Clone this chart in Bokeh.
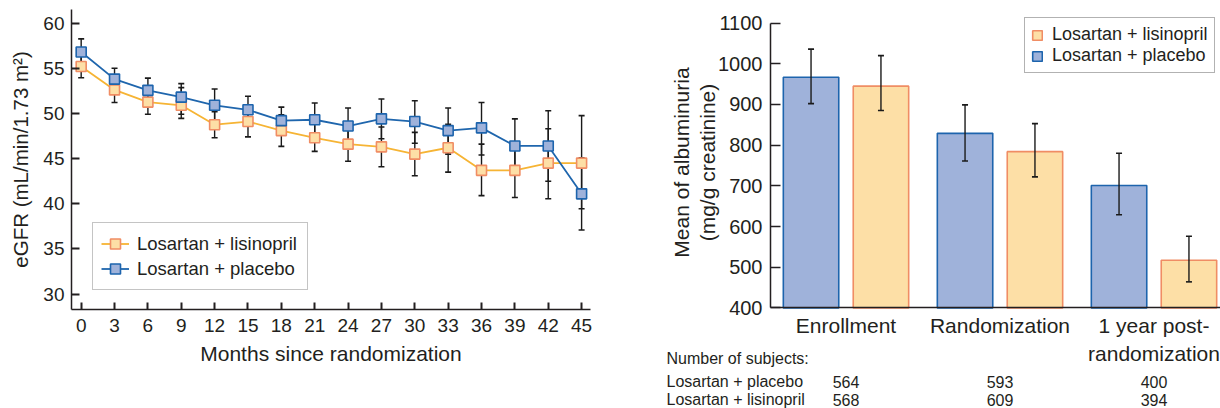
import math
from bokeh.plotting import figure
from bokeh.models import (Range1d, FixedTicker, Whisker, TeeHead, ColumnDataSource,
                          Legend, LegendItem)
from bokeh.core.properties import value
from bokeh.layouts import row
from bokeh.embed import file_html
from bokeh.resources import INLINE

# ---------------- data: eGFR over time ----------------
months = [0, 3, 6, 9, 12, 15, 18, 21, 24, 27, 30, 33, 36, 39, 42, 45]
egfr_lis = [55.2, 52.6, 51.25, 50.9, 48.75, 49.1, 48.1, 47.3, 46.6, 46.3, 45.5, 46.2, 43.7, 43.7, 44.5, 44.5]
egfr_lis_lo = [53.95, 51.2, 49.9, 49.45, 47.3, 47.4, 46.35, 45.8, 44.7, 44.1, 43.1, 43.5, 40.9, 40.7, 40.55, 39.45]
egfr_lis_hi = [56.5, 54.0, 52.6, 52.85, 50.2, 50.8, 49.85, 48.8, 48.5, 48.5, 47.9, 48.8, 46.6, 46.6, 48.3, 49.75]
egfr_pla = [56.8, 53.8, 52.55, 51.8, 50.9, 50.4, 49.2, 49.3, 48.6, 49.4, 49.1, 48.1, 48.4, 46.4, 46.4, 41.1]
egfr_pla_lo = [55.35, 52.6, 51.2, 49.9, 49.2, 48.9, 47.6, 47.45, 46.6, 47.2, 46.7, 45.5, 45.4, 43.4, 42.5, 37.1]
egfr_pla_hi = [58.25, 55.0, 53.9, 53.3, 52.7, 51.9, 50.7, 51.15, 50.6, 51.6, 51.4, 50.6, 51.2, 49.4, 50.3, 45.1]
egfr_yticks = [30, 35, 40, 45, 50, 55, 60]

# ---------------- data: albuminuria ----------------
stages = ["Enrollment", "Randomization", "1 year post-\nrandomization"]
alb_pla = [967, 829, 701]
alb_pla_lo = [902, 761, 629]
alb_pla_hi = [1036, 899, 780]
alb_lis = [945, 784, 517]
alb_lis_lo = [885, 722, 464]
alb_lis_hi = [1020, 853, 576]
n_pla = [564, 593, 400]
n_lis = [568, 609, 394]
alb_yticks = [400, 500, 600, 700, 800, 900, 1000, 1100]
table_rows = ["Number of subjects:", "Losartan + placebo", "Losartan + lisinopril"]

FONT = "Liberation Sans"
TXT = "#231f20"
OR_LINE = "#f6b434"
OR_FILL = "#fddfa6"
OR_EDGE = "#f08d64"
BL_LINE = "#1f66ad"
BL_FILL = "#9fb2da"
BL_EDGE = "#1d64ad"


def style_axis(ax, tick_size, label_size):
    ax.axis_line_color = TXT
    ax.axis_line_width = 1.5
    ax.major_tick_line_color = TXT
    ax.major_tick_line_width = 2
    ax.minor_tick_line_color = None
    ax.major_tick_out = 0
    ax.major_label_text_font = FONT
    ax.major_label_text_font_size = tick_size
    ax.major_label_text_color = TXT
    ax.axis_label_text_font = FONT
    ax.axis_label_text_font_size = label_size
    ax.axis_label_text_font_style = "normal"
    ax.axis_label_text_color = TXT


# ================= left: eGFR =================
p1 = figure(width=620, height=408, output_backend="svg", toolbar_location=None,
            x_range=Range1d(-0.87, 45.8), y_range=Range1d(28.3, 61.5),
            min_border_left=71, min_border_right=30, min_border_top=9, min_border_bottom=99)
p1.outline_line_color = None
p1.grid.visible = False

src_lis = ColumnDataSource(dict(x=months, y=egfr_lis, lo=egfr_lis_lo, hi=egfr_lis_hi))
src_pla = ColumnDataSource(dict(x=months, y=egfr_pla, lo=egfr_pla_lo, hi=egfr_pla_hi))

for src in (src_lis, src_pla):
    w = Whisker(source=src, base="x", upper="hi", lower="lo", dimension="height",
                line_color="#1a1a1a", line_width=1.4, level="underlay",
                upper_head=TeeHead(size=6, line_color="#1a1a1a", line_width=1.6),
                lower_head=TeeHead(size=6, line_color="#1a1a1a", line_width=1.6))
    p1.add_layout(w)

l_lis = p1.line("x", "y", source=src_lis, line_color=OR_LINE, line_width=1.8)
m_lis = p1.scatter("x", "y", source=src_lis, marker="square", size=10,
                   fill_color=OR_FILL, line_color=OR_EDGE, line_width=1.6)
l_pla = p1.line("x", "y", source=src_pla, line_color=BL_LINE, line_width=1.8)
m_pla = p1.scatter("x", "y", source=src_pla, marker="square", size=10,
                   fill_color=BL_FILL, line_color=BL_EDGE, line_width=1.6)

p1.xaxis.ticker = FixedTicker(ticks=months)
p1.yaxis.ticker = FixedTicker(ticks=egfr_yticks)
style_axis(p1.xaxis[0], "19px", "21px")
style_axis(p1.yaxis[0], "19px", "20.5px")
p1.xaxis.major_tick_in = 7
p1.yaxis.major_tick_in = 8
p1.xaxis.major_label_standoff = 9
p1.yaxis.major_label_standoff = 7
p1.xaxis.axis_label = "Months since randomization"
p1.yaxis.axis_label = "eGFR (mL/min/1.73 m²)"
p1.xaxis.axis_label_standoff = 7
p1.yaxis.axis_label_standoff = 8

leg1 = Legend(items=[LegendItem(label="Losartan + lisinopril", renderers=[l_lis, m_lis]),
                     LegendItem(label="Losartan + placebo", renderers=[l_pla, m_pla])],
              location=(21, 19), glyph_width=28, glyph_height=25, label_height=25,
              label_width=162, label_standoff=8, padding=8, spacing=0, margin=0,
              label_text_font=FONT, label_text_font_size="18.5px", label_text_color=TXT,
              border_line_color="#8a8a8a", border_line_width=1.2,
              background_fill_color="white", background_fill_alpha=1)
p1.add_layout(leg1)

# ================= right: albuminuria =================
# The frame fills the whole figure; axes sit at fixed data locations so that the
# subject-count table below the bars can be drawn as ordinary text glyphs.
W2, H2 = 600, 408
X_PX0, X_PPU = 225.5, 154.0            # px of group 0 centre, px per group
Y_TOP_PX, Y_BOT_PX = 22.6, 307.4       # px of 1100 and 400
Y_PPU = (Y_BOT_PX - Y_TOP_PX) / (alb_yticks[-1] - alb_yticks[0])


def fx(px):
    return (px - X_PX0) / X_PPU


def fy(py):
    return alb_yticks[0] + (Y_BOT_PX - py) / Y_PPU


p2 = figure(width=W2, height=H2, output_backend="svg", toolbar_location=None,
            x_range=Range1d(fx(0), fx(W2)), y_range=Range1d(fy(H2), fy(0)),
            min_border=0, min_border_left=0, min_border_right=0,
            min_border_top=0, min_border_bottom=0)
p2.outline_line_color = None
p2.grid.visible = False

# keep each figure's frame where it was set (no cross-figure frame alignment)
for fig in (p1, p2):
    try:
        fig.frame_align = False
    except Exception:
        pass

idx = list(range(len(stages)))
off = 0.227
src_bp = ColumnDataSource(dict(x=[i - off for i in idx], top=alb_pla, lo=alb_pla_lo, hi=alb_pla_hi))
src_bl = ColumnDataSource(dict(x=[i + off for i in idx], top=alb_lis, lo=alb_lis_lo, hi=alb_lis_hi))

b_pla = p2.vbar(x="x", top="top", bottom=alb_yticks[0], width=0.36, source=src_bp,
                fill_color=BL_FILL, line_color=BL_EDGE, line_width=1.6)
b_lis = p2.vbar(x="x", top="top", bottom=alb_yticks[0], width=0.36, source=src_bl,
                fill_color=OR_FILL, line_color=OR_EDGE, line_width=1.6)
for src in (src_bp, src_bl):
    w = Whisker(source=src, base="x", upper="hi", lower="lo", dimension="height",
                line_color="#1a1a1a", line_width=1.4, level="annotation",
                upper_head=TeeHead(size=6, line_color="#1a1a1a", line_width=1.6),
                lower_head=TeeHead(size=6, line_color="#1a1a1a", line_width=1.6))
    p2.add_layout(w)

x_axis_left = fx(150)
p2.xaxis.fixed_location = alb_yticks[0]
p2.xaxis.bounds = (x_axis_left, fx(W2))
p2.xaxis.ticker = FixedTicker(ticks=idx)
p2.xaxis.major_label_overrides = {i: s for i, s in zip(idx, stages)}
p2.yaxis.fixed_location = x_axis_left
p2.yaxis.bounds = (alb_yticks[0], alb_yticks[-1])
p2.yaxis.ticker = FixedTicker(ticks=alb_yticks)
style_axis(p2.xaxis[0], "21px", "21px")
style_axis(p2.yaxis[0], "20px", "21px")
p2.xaxis.major_tick_line_color = None
p2.xaxis.major_tick_in = 0
p2.yaxis.major_tick_in = 10
p2.yaxis.major_tick_line_width = 1.6
p2.xaxis.major_label_standoff = 6
p2.yaxis.major_label_standoff = 8

# y-axis title (two centred lines, rotated)
p2.text(x=[fx(74)], y=[fy(162)], text=["Mean of albuminuria\n(mg/g creatinine)"],
        angle=math.pi / 2, text_align="center", text_baseline="middle",
        text_font=value(FONT), text_font_size=value("21px"), text_color=TXT,
        text_line_height=1.1)

# subject-count table
row_y = [fy(358), fy(381), fy(399)]
p2.text(x=[fx(46)] * 3, y=row_y, text=table_rows, text_align="left", text_baseline="middle",
        text_font=value(FONT), text_font_size=value("16px"), text_color=TXT)
p2.text(x=idx + idx, y=[row_y[1]] * 3 + [row_y[2]] * 3,
        text=[str(n) for n in n_pla] + [str(n) for n in n_lis],
        text_align="center", text_baseline="middle",
        text_font=value(FONT), text_font_size=value("16px"), text_color=TXT)

leg2 = Legend(items=[LegendItem(label="Losartan + lisinopril", renderers=[b_lis]),
                     LegendItem(label="Losartan + placebo", renderers=[b_pla])],
              location=(1024 - 620, H2 - 73), glyph_width=12, glyph_height=12, label_height=20,
              label_standoff=9, padding=6, spacing=0, margin=0,
              label_text_font=FONT, label_text_font_size="18px", label_text_color=TXT,
              border_line_color="#666666", border_line_width=1.2,
              background_fill_color="white", background_fill_alpha=1)
p2.add_layout(leg2)

layout = row(p1, p2)
open("out.html", "w").write(file_html(layout, INLINE))
